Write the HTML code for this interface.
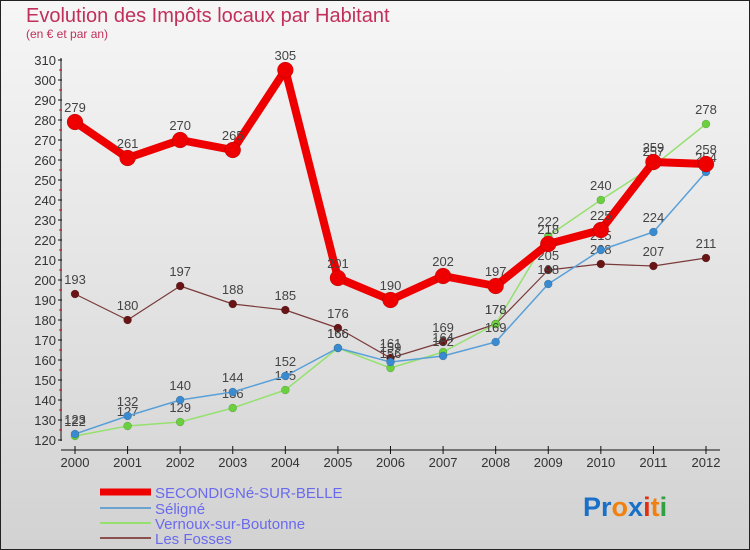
<!DOCTYPE html>
<html><head><meta charset="utf-8"><style>
body{margin:0;width:750px;height:550px;overflow:hidden;font-family:"Liberation Sans",sans-serif}
svg{display:block}
</style></head><body>
<svg id="c" width="750" height="550" xmlns="http://www.w3.org/2000/svg">
<defs><linearGradient id="bg" x1="0" y1="0" x2="0" y2="1"><stop offset="0" stop-color="#f6f6f6"/><stop offset="1" stop-color="#d2d2d2"/></linearGradient></defs>
<rect x="0.5" y="0.5" width="749" height="549" fill="url(#bg)" stroke="#222"/>
<text x="26" y="22" font-size="20" fill="#c0305a" font-weight="normal">Evolution des Impôts locaux par Habitant</text>
<text x="26" y="38" font-size="12" fill="#c0305a">(en € et par an)</text>
<g id="axes"></g><g id="series"></g>
<g>
<line x1="100" y1="492" x2="151" y2="492" stroke="#e00" stroke-width="7"/>
<text x="155" y="498" font-size="15" fill="#6a6aee">SECONDIGNé-SUR-BELLE</text>
<line x1="100" y1="508" x2="151" y2="508" stroke="#6aa2d0" stroke-width="2"/>
<text x="155" y="514" font-size="15" fill="#6a6aee">Séligné</text>
<line x1="100" y1="523" x2="151" y2="523" stroke="#96e070" stroke-width="2"/>
<text x="155" y="529" font-size="15" fill="#6a6aee">Vernoux-sur-Boutonne</text>
<line x1="100" y1="538" x2="151" y2="538" stroke="#8a5050" stroke-width="2"/>
<text x="155" y="544" font-size="15" fill="#6a6aee">Les Fosses</text>
</g>
<text x="583" y="516" font-size="27" font-weight="bold"><tspan fill="#1a70c8">Pr</tspan><tspan fill="#f08010">o</tspan><tspan fill="#1a70c8">x</tspan><tspan fill="#e03010">i</tspan><tspan fill="#f08010">t</tspan><tspan fill="#30a040">i</tspan></text>
</svg>
<script>
const years=[2000,2001,2002,2003,2004,2005,2006,2007,2008,2009,2010,2011,2012];
const secondigne=[279,261,270,265,305,201,190,202,197,218,225,259,258];
const seligne=[123,132,140,144,152,166,159,162,169,198,215,224,254];
const vernoux=[122,127,129,136,145,166,156,164,178,222,240,257,278];
const fosses=[193,180,197,188,185,176,161,169,178,205,208,207,211];
const yTicks=[120,130,140,150,160,170,180,190,200,210,220,230,240,250,260,270,280,290,300,310];
const NS="http://www.w3.org/2000/svg";
const xS=i=>75+i*(706-75)/12;
const yS=v=>440-(v-120)*2;
function mk(tag,attrs,parent,txt){const e=document.createElementNS(NS,tag);for(const k in attrs)e.setAttribute(k,attrs[k]);if(txt!==undefined)e.textContent=txt;parent.appendChild(e);return e;}
const ax=document.getElementById('axes');
mk('line',{x1:61,y1:58,x2:61,y2:441,stroke:'#111'},ax);
mk('line',{x1:61,y1:450,x2:720,y2:450,stroke:'#111'},ax);
yTicks.forEach(t=>{
 mk('line',{x1:58,y1:yS(t),x2:62,y2:yS(t),stroke:'#111'},ax);
 if(t<310)mk('line',{x1:59,y1:yS(t+5),x2:62,y2:yS(t+5),stroke:'#e00'},ax);
 const l=mk('text',{x:56,y:yS(t)+5,'font-size':13,fill:'#333','text-anchor':'end'},ax,t);
 
 
});
years.forEach((y,i)=>{
 mk('line',{x1:xS(i),y1:446,x2:xS(i),y2:454,stroke:'#111'},ax);
 const l=mk('text',{x:xS(i),y:467,'font-size':13,fill:'#333','text-anchor':'middle'},ax,y);
 
 
});
const sg=document.getElementById('series');
function draw(vals,color,w,r,name,ptColor){
 const g=mk('g',{},sg);
 
 
 mk('polyline',{points:vals.map((v,i)=>xS(i)+','+yS(v)).join(' '),fill:'none',stroke:color,'stroke-width':w,'stroke-linejoin':'round'},g);
 vals.forEach((v,i)=>{
  const c=mk('circle',{cx:xS(i),cy:yS(v),r:r,fill:ptColor,stroke:'rgba(0,0,0,0.25)','stroke-width':0.5},g);
  
  
  mk('text',{x:xS(i),y:yS(v)-10,'font-size':13,fill:'#444','text-anchor':'middle'},g,v);
 });
}
draw(fosses,'#7a3a3a',1.2,4,'series-les-fosses','#6a1515');
draw(vernoux,'#96e070',1.5,4,'series-vernoux','#6ad040');
draw(seligne,'#5aa0d8',1.5,4,'series-seligne','#3a8ad0');
draw(secondigne,'#ee0000',8,8,'series-secondigne','#ee0000');
</script>
</body></html>
